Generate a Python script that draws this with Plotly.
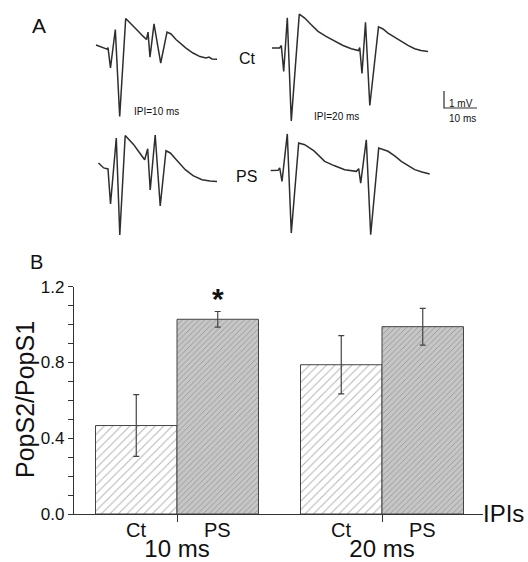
import plotly.graph_objects as go

# ---------------- Panel B data ----------------
GROUPS = ["10 ms", "20 ms"]
CT_MEAN = [0.467, 0.788]
CT_ERR = [0.163, 0.154]
PS_MEAN = [1.028, 0.989]
PS_ERR = [0.041, 0.097]
Y_TICKS = [0.0, 0.4, 0.8, 1.2]

# ---------------- Panel A data (time ms, voltage mV) ----------------
CT10_T = [0, 1.82, 3.33, 3.64, 4.39, 5.85, 7.18, 9.0, 10.0, 11.21, 12.73, 14.24, 15.3, 15.76,
          16.36, 17.58, 19.61, 21.52, 22.73, 24.24, 25.76, 27.27, 29.39, 31.52, 33.33, 34.24,
          35.15, 36.67]
CT10_V = [0, -0.14, -0.24, -0.15, -1.35, 0.91, -4.21, 1.56, 1.35, 1.09, 0.82, 0.52, 0.32, 0.76,
          -0.71, 1.24, -1.06, 0.76, 0.65, 0.32, 0.06, -0.18, -0.47, -0.68, -0.76, -0.71,
          -0.82, -0.84]

CT20_T = [0, 2.33, 2.82, 3.55, 4.64, 5.85, 8.27, 9.91, 11.82, 13.94, 16.36, 19.0, 21.52, 24.03,
          26.21, 26.58, 27.27, 28.33, 29.64, 32.27, 33.64, 35.15, 37.27, 39.18, 41.21, 43.24,
          45.15, 47.27]
CT20_V = [0, 0, 0.15, -1.38, 1.78, -4.29, 1.99, 1.76, 1.38, 0.98, 0.68, 0.39, 0.15, -0.04,
          -0.15, 0.03, -1.5, 1.51, -3.38, 1.24, 1.12, 0.88, 0.62, 0.39, 0.15, -0.04,
          -0.15, -0.21]

PS10_T = [0, 1.58, 2.88, 3.64, 5.39, 6.45, 8.09, 9.24, 10.67, 12.27, 14.0, 14.91, 15.67, 17.18,
          18.7, 20.45, 21.76, 23.79, 26.3, 28.64, 31.36, 33.79, 35.91]
PS10_V = [0, -0.29, -0.35, -2.41, 1.47, -4.24, 1.62, 1.38, 1.08, 0.65, 0.19, 0.84, -1.59, 1.65,
          -2.53, 0.72, 0.59, 0.15, -0.39, -0.74, -0.98, -1.06, -1.09]

PS20_T = [0, 2.21, 2.73, 3.42, 5.03, 6.24, 8.48, 10.3, 13.12, 16.36, 19.18, 22.42, 25.94, 26.67,
          27.27, 28.97, 30.3, 32.73, 35.55, 37.67, 39.58, 41.61, 43.64, 45.85, 48.18]
PS20_V = [0, 0.01, 0.15, -0.64, 2.15, -3.68, 1.62, 1.52, 1.15, 0.54, 0.29, 0.05, -0.05, 0.11,
          -0.74, 1.81, -3.78, 1.32, 1.13, 0.85, 0.54, 0.29, 0.05, -0.09, -0.21]

SCALE_MV = 1
SCALE_MS = 10

# ---------------- layout constants ----------------
W, H = 528, 562
PX_PER_MS = 3.3
PX_PER_MV = 17.0
FONT = "Liberation Sans, Arial, sans-serif"
INK = "#111111"
AX = "#333333"
TRACE = "#2e2e2e"


def px_x(p):
    return p / W


def px_y(p):
    return 1 - p / H


def place(t, v, ox, oy):
    return ([ox / PX_PER_MS + a for a in t], [-oy / PX_PER_MV + b for b in v])


fig = go.Figure()

# Panel B bars
fig.add_trace(go.Bar(
    x=GROUPS, y=CT_MEAN, name="Ct",
    error_y=dict(type="data", array=CT_ERR, color="#444", thickness=1.2, width=3),
    marker=dict(color="white", line=dict(color="#444", width=1),
                pattern=dict(shape="/", bgcolor="white", fgcolor="#666", size=6, solidity=0.16)),
    xaxis="x", yaxis="y"))
fig.add_trace(go.Bar(
    x=GROUPS, y=PS_MEAN, name="PS",
    error_y=dict(type="data", array=PS_ERR, color="#444", thickness=1.2, width=3),
    marker=dict(color="#c6c6c6", line=dict(color="#444", width=1),
                pattern=dict(shape="/", bgcolor="#c6c6c6", fgcolor="#5e5e5e", size=4, solidity=0.2)),
    xaxis="x", yaxis="y"))

# Panel A traces
for (t, v, ox, oy) in [(CT10_T, CT10_V, 96, 45), (CT20_T, CT20_V, 272, 48),
                       (PS10_T, PS10_V, 98.5, 163), (PS20_T, PS20_V, 270.7, 170.5)]:
    xx, yy = place(t, v, ox, oy)
    fig.add_trace(go.Scatter(x=xx, y=yy, mode="lines", xaxis="x2", yaxis="y2",
                             line=dict(color=TRACE, width=1.5), hoverinfo="skip"))

# scale bar (L shape): 1 mV vertical, 10 ms horizontal
sx, sy = place([0, 0, SCALE_MS], [SCALE_MV, 0, 0], 444, 108)
fig.add_trace(go.Scatter(x=sx, y=sy, mode="lines", xaxis="x2", yaxis="y2",
                         line=dict(color=TRACE, width=1.2), hoverinfo="skip"))

off = 0.5 * (1 - 0.205) / 2  # half of one bar within a group (category units)

annotations = []


def ann(text, x, y, size, xref="paper", xanchor="center", yanchor="middle", **kw):
    annotations.append(dict(text=text, x=x, y=y, xref=xref, yref="paper", showarrow=False,
                            xanchor=xanchor, yanchor=yanchor,
                            font=dict(family=FONT, size=size, color=INK), **kw))


ann("A", px_x(39), px_y(26), 21)
ann("B", px_x(36), px_y(262), 20)
ann("Ct", px_x(247), px_y(58), 16)
ann("PS", px_x(246), px_y(177), 16)
ann("IPI=10 ms", px_x(156), px_y(111.5), 10)
ann("IPI=20 ms", px_x(336), px_y(116), 10)
ann("1 mV", px_x(461), px_y(103), 10)
ann("10 ms", px_x(462), px_y(118.5), 10)
ann("PopS2/PopS1", px_x(25), px_y(400), 25, textangle=-90)
ann("IPIs", px_x(481), px_y(513), 24, xanchor="left")
for i, g in enumerate(GROUPS):
    ann("Ct", i - off, px_y(530), 20, xref="x")
    ann("PS", i + off, px_y(530), 20, xref="x")
ann("<b>*</b>", 0 + off, px_y(298), 30, xref="x")

fig.update_layout(
    width=W, height=H, autosize=False,
    margin=dict(l=0, r=0, t=0, b=0, pad=0),
    paper_bgcolor="white", plot_bgcolor="rgba(0,0,0,0)",
    showlegend=False,
    barmode="group", bargap=0.205, bargroupgap=0,
    font=dict(family=FONT, color=INK),
    annotations=annotations,
    xaxis=dict(domain=[74 / W, 483 / W], anchor="y", type="category",
               range=[(74 - 177) / 205, (483 - 177) / 205],
               showline=True, linecolor=AX, linewidth=1.3,
               ticks="outside", ticklen=7, tickwidth=1.3, tickcolor=AX,
               tickfont=dict(family=FONT, size=24, color=INK),
               ticklabelstandoff=6, automargin=False,
               showgrid=False, zeroline=False, fixedrange=True),
    yaxis=dict(domain=[(H - 514) / H, (H - 286.7) / H], anchor="x",
               range=[0, 1.2], tickmode="array", tickvals=Y_TICKS, tickformat=".1f",
               showline=True, linecolor=AX, linewidth=1.3,
               ticks="outside", ticklen=5, tickwidth=1.2, tickcolor=AX,
               tickfont=dict(family=FONT, size=17, color=INK),
               minor=dict(dtick=0.1, tick0=0, ticks="outside", ticklen=5, tickwidth=1,
                          tickcolor=AX, showgrid=False),
               automargin=False,
               showgrid=False, zeroline=False, fixedrange=True),
    xaxis2=dict(domain=[0, 1], anchor="y2", range=[0, W / PX_PER_MS], visible=False,
                fixedrange=True, automargin=False),
    yaxis2=dict(domain=[0, 1], anchor="x2", range=[-H / PX_PER_MV, 0], visible=False,
                fixedrange=True, automargin=False),
)

fig.write_html("out.html", config={"displayModeBar": False},
               post_script="document.body.style.margin='0px';")
